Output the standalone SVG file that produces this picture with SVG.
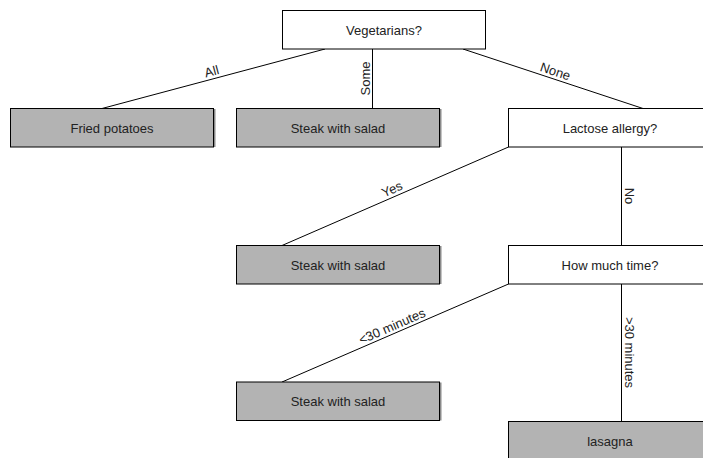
<svg xmlns="http://www.w3.org/2000/svg" width="703" height="458" viewBox="0 0 703 458">
  <style>
    .box { stroke: #000; stroke-width: 1; }
    .question { fill: #ffffff; }
    .answer { fill: #b3b3b3; }
    .shadow { fill: #8a8a8a; }
    .node-text { font-family: "Liberation Sans", Arial, sans-serif; font-size: 13px; fill: #222; text-anchor: middle; dominant-baseline: central; }
    .edge { stroke: #000; stroke-width: 1; fill: none; }
    .edge-label { font-family: "Liberation Sans", Arial, sans-serif; font-size: 13px; fill: #222; text-anchor: middle; }
  </style>

  <rect width="703" height="458" fill="#ffffff"/>

  <!-- connectors -->
  <g id="connectors">
    <line class="edge" x1="325" y1="49" x2="102" y2="108.5"/>
    <line class="edge" x1="372.5" y1="49" x2="372.5" y2="108.5"/>
    <line class="edge" x1="463" y1="49" x2="643" y2="108.5"/>
    <line class="edge" x1="508.5" y1="147" x2="282" y2="245.5"/>
    <line class="edge" x1="621.5" y1="147" x2="621.5" y2="245.5"/>
    <line class="edge" x1="508.5" y1="284" x2="282" y2="382"/>
    <line class="edge" x1="621.5" y1="284" x2="621.5" y2="421.5"/>

    <text class="edge-label" transform="translate(213.5,78.5) rotate(-14.82)" y="-3">All</text>
    <text class="edge-label" transform="translate(372.5,78.5) rotate(-90)" y="-3">Some</text>
    <text class="edge-label" transform="translate(553,78.5) rotate(18.15)" y="-3">None</text>
    <text class="edge-label" transform="translate(395,196) rotate(-23.44)" y="-3">Yes</text>
    <text class="edge-label" transform="translate(621.5,196) rotate(90)" y="-3">No</text>
    <text class="edge-label" transform="translate(395,333) rotate(-23.44)" y="-3">&lt;30 minutes</text>
    <text class="edge-label" transform="translate(621.5,352.5) rotate(90)" y="-3">&gt;30 minutes</text>
  </g>

  <!-- decision nodes -->
  <g id="vegetarians">
    <rect class="box question" x="282.5" y="10.5" width="203" height="38.5"/>
    <text class="node-text" x="384" y="30">Vegetarians?</text>
  </g>

  <g id="lactose-allergy">
    <rect class="box question" x="508.5" y="108.5" width="203" height="38.5"/>
    <text class="node-text" x="610" y="128">Lactose allergy?</text>
  </g>

  <g id="how-much-time">
    <rect class="box question" x="508.5" y="245.5" width="203" height="38.5"/>
    <text class="node-text" x="610" y="265">How much time?</text>
  </g>

  <!-- outcome nodes: grey boxes with a thin shadow strip on the right -->
  <g id="fried-potatoes">
    <rect class="shadow" x="12.5" y="109" width="203" height="38"/>
    <rect class="box answer" x="10.5" y="108.5" width="203" height="38.5"/>
    <text class="node-text" x="112" y="128">Fried potatoes</text>
  </g>

  <g id="steak-some">
    <rect class="shadow" x="238.5" y="109" width="203" height="38"/>
    <rect class="box answer" x="236.5" y="108.5" width="203" height="38.5"/>
    <text class="node-text" x="338" y="128">Steak with salad</text>
  </g>

  <g id="steak-lactose">
    <rect class="shadow" x="238.5" y="246" width="203" height="38"/>
    <rect class="box answer" x="236.5" y="245.5" width="203" height="38.5"/>
    <text class="node-text" x="338" y="265">Steak with salad</text>
  </g>

  <g id="steak-quick">
    <rect class="shadow" x="238.5" y="382.5" width="203" height="38"/>
    <rect class="box answer" x="236.5" y="382" width="203" height="38.5"/>
    <text class="node-text" x="338" y="401.5">Steak with salad</text>
  </g>

  <g id="lasagna">
    <rect class="shadow" x="510.5" y="422" width="203" height="38"/>
    <rect class="box answer" x="508.5" y="421.5" width="203" height="38.5"/>
    <text class="node-text" x="610" y="441">lasagna</text>
  </g>
</svg>
